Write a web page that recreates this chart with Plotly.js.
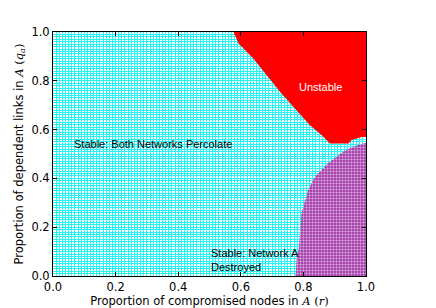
<!DOCTYPE html>
<html>
<head>
<meta charset="utf-8">
<script src="https://cdn.plot.ly/plotly-3.0.1.min.js"></script>
<style>html,body{margin:0;padding:0;background:#fff;}#chart{width:436px;height:308px;}</style>
</head>
<body>
<div id="chart"></div>
<script>
// Boundary of the "Unstable" region (r, q_a)
var unstableR = [0.577, 0.593, 0.640, 0.683, 0.726, 0.773, 0.821, 0.859, 0.880, 0.885, 0.944, 0.954, 0.986, 1.0, 1.0];
var unstableQ = [1.0, 0.953, 0.891, 0.823, 0.754, 0.686, 0.618, 0.577, 0.550, 0.543, 0.543, 0.557, 0.570, 0.570, 1.0];
// Boundary of the "Network A destroyed" region
var destroyedR = [0.775, 0.779, 0.785, 0.794, 0.806, 0.815, 0.836, 0.879, 0.935, 0.970, 1.0, 1.0];
var destroyedQ = [0.0, 0.086, 0.106, 0.258, 0.311, 0.352, 0.406, 0.463, 0.516, 0.535, 0.546, 0.0];
var tickVals = [0, 0.2, 0.4, 0.6, 0.8, 1.0];
var tickText = ['0.0', '0.2', '0.4', '0.6', '0.8', '1.0'];

var traces = [
  {x: unstableR, y: unstableQ, type: 'scatter', mode: 'lines', fill: 'toself',
   fillcolor: '#ff0000', line: {width: 0, color: '#ff0000'}, hoverinfo: 'skip', showlegend: false},
  {x: destroyedR, y: destroyedQ, type: 'scatter', mode: 'lines', fill: 'toself',
   fillcolor: '#a03aa6', line: {width: 0, color: '#a03aa6'},
   fillpattern: {shape: '.', bgcolor: '#98249e', fgcolor: '#d6a2da', size: 3, solidity: 0.5},
   hoverinfo: 'skip', showlegend: false}
];

var axisCommon = {
  range: [0, 1], tickvals: tickVals, ticktext: tickText,
  ticks: 'inside', ticklen: 4, tickcolor: '#000', tickwidth: 1,
  showline: true, linecolor: '#000', linewidth: 1, mirror: 'ticks',
  showgrid: true, gridcolor: '#2af2f2', gridwidth: 1, zeroline: false,
  tickfont: {family: 'DejaVu Sans', size: 11.5, color: '#000'},
  minor: {dtick: 0.01, showgrid: true, gridcolor: '#2af2f2', gridwidth: 1, ticks: ''}
};

var mathA = '<span style="font-family:DejaVu Serif"><i>A</i></span>';

var layout = {
  width: 436, height: 308,
  margin: {l: 52.5, r: 70, t: 31.7, b: 32},
  paper_bgcolor: '#fff', plot_bgcolor: '#fff',
  xaxis: Object.assign({}, axisCommon, {
    title: {text: 'Proportion of compromised nodes in ' + mathA + ' <span style="font-family:DejaVu Serif">(<i>r</i>)</span>', standoff: 4,
            font: {family: 'DejaVu Sans', size: 11.5, color: '#000'}}
  }),
  yaxis: Object.assign({}, axisCommon, {
    title: {text: 'Proportion of dependent links in ' + mathA + ' <span style="font-family:DejaVu Serif">(<i>q<sub>a</sub></i>)</span>', standoff: 5,
            font: {family: 'DejaVu Sans', size: 11.5, color: '#000'}}
  }),
  annotations: [
    {x: 0.062, y: 0.54, xref: 'x', yref: 'y', text: 'Stable: Both Networks Percolate', showarrow: false,
     xanchor: 'left', yanchor: 'middle', font: {family: 'Liberation Sans', size: 11, color: '#000'}},
    {x: 0.855, y: 0.774, xref: 'x', yref: 'y', text: 'Unstable', showarrow: false,
     xanchor: 'center', yanchor: 'middle', font: {family: 'Liberation Sans', size: 11, color: '#fff'}},
    {x: 0.497, y: 0.065, xref: 'x', yref: 'y', text: 'Stable: Network A<br>Destroyed', showarrow: false,
     align: 'left', xanchor: 'left', yanchor: 'middle', font: {family: 'Liberation Sans', size: 11, color: '#000'}}
  ]
};

Plotly.newPlot('chart', traces, layout, {staticPlot: true, displayModeBar: false});
</script>
</body>
</html>
